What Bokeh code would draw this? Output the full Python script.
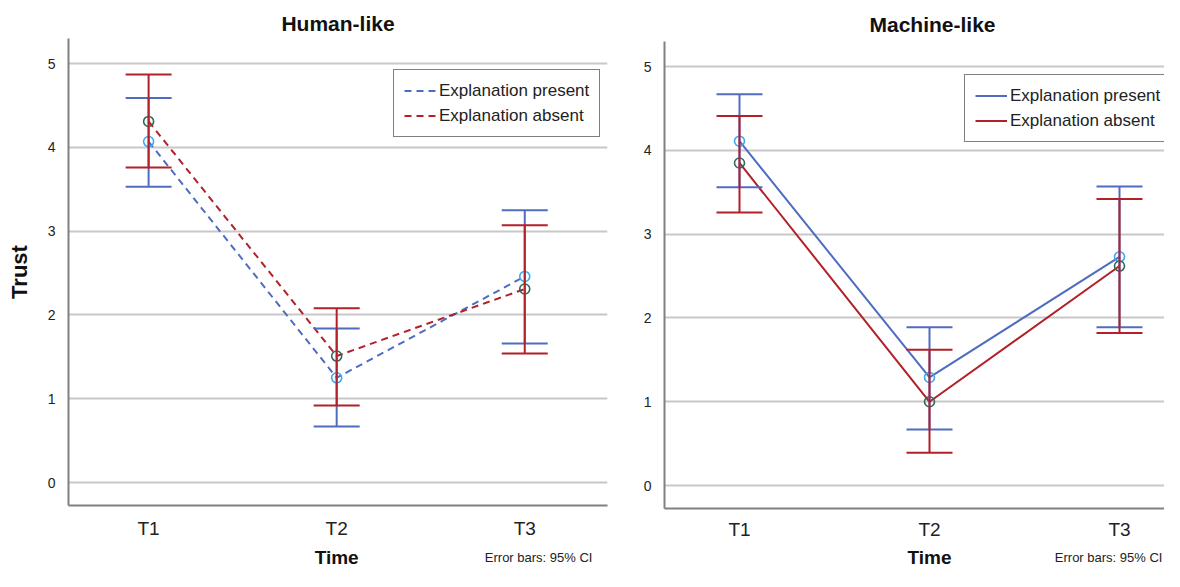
import numpy as np
from bokeh.plotting import figure
from bokeh.models import (ColumnDataSource, Whisker, TeeHead, Legend, LegendItem,
                          FixedTicker, Range1d)
from bokeh.core.properties import value
from bokeh.layouts import row, column
from bokeh.embed import file_html
from bokeh.resources import INLINE

# ---------------- data ----------------
times = ["T1", "T2", "T3"]
series_names = ["Explanation present", "Explanation absent"]

human_present_mean = [4.07, 1.25, 2.46]
human_present_lower = [3.53, 0.67, 1.66]
human_present_upper = [4.59, 1.84, 3.25]
human_absent_mean = [4.31, 1.51, 2.31]
human_absent_lower = [3.76, 0.92, 1.54]
human_absent_upper = [4.87, 2.08, 3.07]

machine_present_mean = [4.11, 1.29, 2.73]
machine_present_lower = [3.56, 0.67, 1.89]
machine_present_upper = [4.67, 1.89, 3.57]
machine_absent_mean = [3.85, 1.00, 2.62]
machine_absent_lower = [3.26, 0.39, 1.82]
machine_absent_upper = [4.41, 1.62, 3.42]

y_ticks = [0, 1, 2, 3, 4, 5]
x_title = "Time"
y_title = "Trust"
note = "Error bars: 95% CI"

# ---------------- style ----------------
FONT = "Liberation Sans"
BLUE = "#4F6DC0"
RED = "#B2202A"
BLUE_MK = "#3BA9F0"
RED_MK = "#2C6B5C"
GRID = "#C8C8C8"
AXIS = "#808080"

xpos = list(range(1, len(times) + 1))
MAIN_H = 544
FOOT_H = 24


def make_panel(title, present, absent, dash, width, border_left, border_right,
               border_top, border_bottom, xr, ylabel, legend_loc, note_x,
               title_align, title_offset, title_standoff, xlabel_standoff):
    xrange = Range1d(*xr)
    p = figure(width=width, height=MAIN_H, output_backend="svg", toolbar_location=None,
               x_range=xrange, y_range=Range1d(-0.274, 5.30),
               min_border_left=border_left, min_border_right=border_right,
               min_border_top=border_top, min_border_bottom=border_bottom)
    p.outline_line_color = None
    p.background_fill_color = "white"
    p.border_fill_color = "white"

    p.title.text = title
    p.title.align = title_align
    p.title.offset = title_offset
    p.title.standoff = title_standoff
    p.title.text_font = FONT
    p.title.text_font_size = "21px"
    p.title.text_font_style = "bold"
    p.title.text_color = "#111111"

    p.xgrid.grid_line_color = None
    p.ygrid.grid_line_color = GRID
    p.ygrid.grid_line_width = 2
    p.yaxis.ticker = FixedTicker(ticks=y_ticks)
    p.xaxis.ticker = FixedTicker(ticks=xpos)
    p.xaxis.major_label_overrides = {x: t for x, t in zip(xpos, times)}

    for ax in (p.xaxis[0], p.yaxis[0]):
        ax.axis_line_color = AXIS
        ax.axis_line_width = 2
        ax.major_tick_line_color = None
        ax.minor_tick_line_color = None
        ax.major_label_text_font = FONT
        ax.axis_label_text_font = FONT
        ax.axis_label_text_font_style = "bold"
        ax.axis_label_text_color = "#111111"
    p.yaxis.major_label_text_font_size = "14px"
    p.yaxis.major_label_text_color = "#222222"
    p.yaxis.major_label_standoff = 7
    p.xaxis.major_label_text_font_size = "19px"
    p.xaxis.major_label_text_color = "#222222"
    p.xaxis.major_label_standoff = xlabel_standoff

    if ylabel:
        p.yaxis.axis_label = ylabel
        p.yaxis.axis_label_text_font_size = "22px"
        p.yaxis.axis_label_standoff = 13

    renderers = []
    for (mean, lower, upper), lc in ((present, BLUE), (absent, RED)):
        src = ColumnDataSource(dict(x=xpos, y=mean, lower=lower, upper=upper))
        r = p.line("x", "y", source=src, line_color=lc, line_width=2, line_dash=dash)
        renderers.append(r)
        w = Whisker(source=src, base="x", upper="upper", lower="lower",
                    line_color=lc, line_width=2, level="glyph",
                    upper_head=TeeHead(size=46, line_color=lc, line_width=2),
                    lower_head=TeeHead(size=46, line_color=lc, line_width=2))
        p.add_layout(w)
    for (mean, lower, upper), mc in ((present, BLUE_MK), (absent, RED_MK)):
        src = ColumnDataSource(dict(x=xpos, y=mean))
        p.scatter("x", "y", source=src, marker="circle", size=10, fill_color=None,
                  line_color=mc, line_width=1.6)

    legend = Legend(items=[LegendItem(label=n, renderers=[r]) for n, r in zip(series_names, renderers)],
                    location=legend_loc, label_text_font=FONT, label_text_font_size="17px",
                    label_text_color="#222222", glyph_width=32, glyph_height=21,
                    label_standoff=3, spacing=4, padding=10, margin=0,
                    border_line_color="black", border_line_width=1,
                    background_fill_color="white", background_fill_alpha=1)
    p.add_layout(legend)

    # footer strip with the x-axis title and the error-bar note
    f = figure(width=width, height=FOOT_H, output_backend="svg", toolbar_location=None,
               x_range=xrange, y_range=Range1d(0, FOOT_H),
               min_border_left=border_left, min_border_right=border_right,
               min_border_top=0, min_border_bottom=0,
               x_axis_location=None, y_axis_location=None)
    f.outline_line_color = None
    f.grid.visible = False
    f.text(x=[xpos[len(xpos) // 2]], y=[11.5], text=[x_title], text_align="center",
           text_baseline="middle", text_font=value(FONT), text_font_size="19px",
           text_font_style="bold", text_color="#111111")
    f.text(x=[note_x], y=[11.5], text=[note], text_align="right",
           text_baseline="middle", text_font=value(FONT), text_font_size="13px",
           text_color="#222222")
    return column(p, f, spacing=0)


c1 = make_panel("Human-like",
                (human_present_mean, human_present_lower, human_present_upper),
                (human_absent_mean, human_absent_lower, human_absent_upper),
                "7 5", 610, 68, 3, 38, 39, (0.574, 3.44), y_title, (325, 368), 3.36,
                "center", 0, 8, 6)
c2 = make_panel("Machine-like",
                (machine_present_mean, machine_present_lower, machine_present_upper),
                (machine_absent_mean, machine_absent_lower, machine_absent_upper),
                "solid", 554, 54, 0, 41, 36, (0.6053, 3.2368), None, (300, 366), 3.226,
                "left", 205, 12, 4)

layout = row(c1, c2, spacing=0)
open("out.html", "w").write(file_html(layout, INLINE))
